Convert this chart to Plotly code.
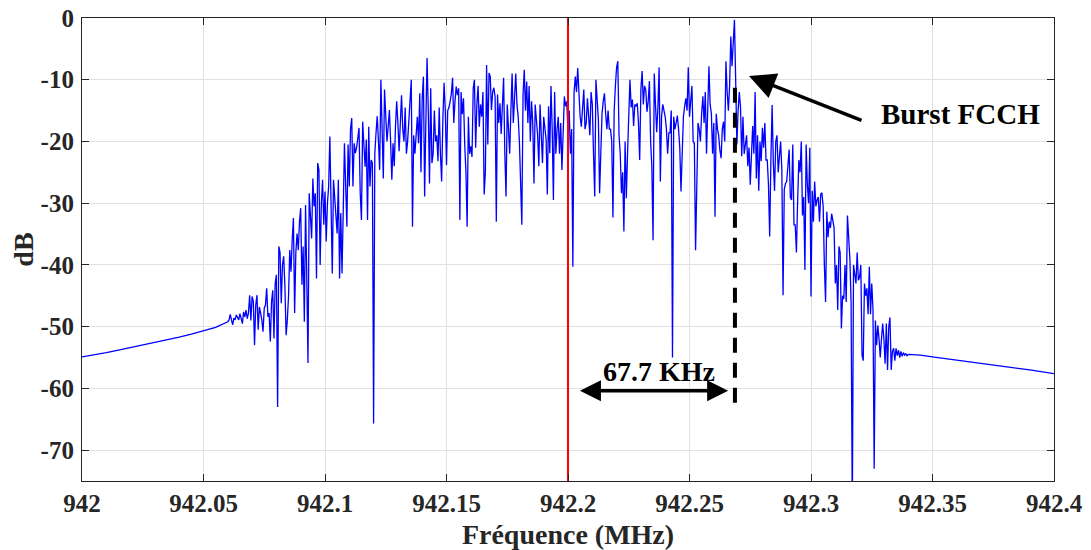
import numpy as np
import plotly.graph_objects as go

# ---------------- data ----------------
LEFT_FREQ = [942.000, 942.005, 942.010, 942.015, 942.020, 942.025, 942.030,
             942.035, 942.040, 942.045, 942.050, 942.055]
LEFT_DB = [-54.9, -54.6, -54.2, -53.8, -53.4, -53.0, -52.6,
           -52.1, -51.7, -51.2, -50.7, -50.1]

NOISE_START = 942.060
NOISE_STEP = 0.0005
NOISE_DB = [
    -49.2, -48.9, -48.0, -49.0, -49.7, -48.6, -48.9, -48.1, -48.5, -48.9,
    -47.9, -48.6, -49.5, -47.6, -48.4, -47.3, -48.7, -47.8, -44.9, -49.0,
    -45.1, -45.9, -53.0, -46.5, -44.9, -50.5, -46.8, -47.8, -48.9, -50.8,
    -47.0, -46.5, -43.8, -48.4, -47.8, -52.4, -46.0, -44.1, -51.9, -43.0,
    -41.6, -63.0, -37.0, -38.0, -46.2, -40.0, -38.6, -43.5, -51.4, -48.9,
    -45.0, -37.6, -41.1, -36.0, -32.4, -47.8, -38.0, -34.9, -37.6, -33.0,
    -30.8, -43.2, -37.0, -49.2, -30.3, -42.0, -55.9, -28.4, -32.0, -35.7,
    -26.0, -30.5, -28.4, -42.2, -23.5, -24.6, -40.0, -30.0, -26.2, -33.5,
    -28.1, -36.2, -30.0, -27.3, -19.2, -30.0, -41.4, -26.2, -28.9, -32.0,
    -34.9, -26.2, -42.2, -31.6, -41.4, -31.4, -20.3, -27.0, -33.8, -20.5,
    -27.3, -18.0, -16.2, -27.3, -20.3, -21.9, -21.0, -19.5, -17.8, -28.4,
    -32.7, -16.8, -22.0, -24.1, -19.7, -32.7, -17.6, -27.3, -23.0, -23.5,
    -65.7, -21.9, -18.6, -15.9, -20.0, -24.6, -10.0, -18.0, -26.0, -11.6,
    -16.0, -20.0, -17.6, -14.9, -20.0, -26.2, -20.3, -24.0, -17.6, -13.5,
    -17.0, -21.6, -17.0, -12.5, -18.0, -20.0, -14.5, -22.0, -20.0, -17.0,
    -14.0, -10.0, -33.8, -19.0, -22.0, -18.2, -16.0, -20.3, -12.2, -25.0,
    -13.0, -9.5, -28.9, -17.0, -6.5, -15.0, -26.8, -11.4, -23.5, -22.0,
    -15.0, -20.0, -19.0, -23.2, -14.5, -22.0, -26.5, -16.5, -10.5, -15.0,
    -23.8, -15.0, -14.5, -13.5, -12.2, -9.7, -17.0, -13.5, -11.1, -12.5,
    -11.4, -32.7, -12.0, -15.6, -13.0, -20.5, -25.0, -33.8, -16.0, -22.0,
    -20.8, -22.5, -11.4, -10.0, -21.0, -14.0, -11.0, -17.6, -14.0, -16.0,
    -12.0, -28.6, -24.9, -7.6, -20.5, -8.9, -9.5, -14.9, -12.0, -11.3,
    -12.8, -33.0, -12.4, -17.0, -13.8, -18.8, -15.0, -9.7, -21.9, -28.9,
    -14.0, -18.5, -22.0, -15.0, -9.0, -17.0, -11.5, -9.0, -14.0, -16.0,
    -20.0, -27.0, -33.5, -12.5, -8.4, -15.0, -10.3, -17.0, -11.0, -20.0,
    -13.5, -17.0, -26.8, -14.0, -16.5, -19.0, -24.0, -14.0, -18.9, -23.5,
    -16.0, -18.0, -19.7, -28.6, -14.3, -21.9, -11.0, -18.0, -29.5, -12.0,
    -22.0, -18.0, -16.0, -22.0, -17.0, -24.6, -16.0, -12.7, -14.3, -13.5,
    -18.6, -15.0, -22.0, -18.0, -40.3, -12.0, -9.5, -12.0, -8.1, -13.3,
    -16.0, -17.6, -13.3, -11.6, -18.0, -17.0, -13.0, -17.0, -19.0, -12.0,
    -14.0, -22.0, -28.9, -10.0, -14.3, -16.5, -28.4, -19.7, -15.5, -13.5,
    -12.2, -15.5, -18.0, -15.0, -18.0, -18.0, -20.0, -32.3, -15.0, -11.0,
    -8.0, -7.0, -19.0, -22.0, -28.4, -25.0, -34.6, -20.0, -29.2, -22.0,
    -16.0, -10.0, -14.5, -13.2, -17.5, -14.0, -14.3, -13.8, -17.0, -23.0,
    -11.5, -8.6, -14.0, -11.0, -11.6, -15.2, -13.5, -10.2, -20.0, -24.0,
    -36.0, -9.0, -14.0, -18.5, -14.5, -8.0, -26.5, -16.0, -14.0, -15.0,
    -16.0, -18.0, -22.0, -18.6, -18.6, -15.0, -55.0, -16.0, -18.0, -17.0,
    -15.8, -18.0, -21.0, -28.1, -20.0, -16.0, -14.3, -13.0, -15.0, -8.0,
    -16.0, -13.0, -11.0, -20.0, -20.3, -37.6, -26.0, -17.0, -18.0, -20.0,
    -15.4, -12.7, -17.0, -12.0, -22.0, -13.5, -7.8, -14.0, -15.5, -22.0,
    -17.0, -32.2, -15.5, -18.0, -19.0, -21.4, -22.7, -18.0, -16.8, -20.0,
    -7.0, -12.0, -15.0, -11.0, -3.0, -7.8, -3.0, -0.3, -10.0, -20.5,
    -15.0, -12.0, -14.6, -22.4, -16.0, -22.0, -20.5, -19.0, -24.0, -21.0,
    -27.0, -23.0, -17.5, -22.0, -12.0, -26.0, -19.0, -28.0, -20.0, -23.2,
    -17.8, -21.0, -17.0, -23.0, -23.0, -27.0, -35.4, -23.0, -14.1, -23.5,
    -28.0, -20.0, -19.0, -25.0, -22.0, -20.0, -24.6, -44.9, -27.8, -26.8,
    -26.5, -24.0, -21.3, -29.0, -29.5, -20.5, -33.5, -33.5, -38.0, -29.7,
    -23.0, -25.0, -20.0, -32.0, -29.0, -40.8, -20.5, -27.0, -30.0, -21.0,
    -45.1, -28.0, -33.0, -26.5, -30.5, -29.5, -29.0, -33.0, -28.5, -28.3,
    -30.5, -40.0, -46.0, -31.4, -35.5, -33.0, -34.0, -31.7, -33.0, -34.0,
    -43.0, -40.0, -47.3, -37.0, -38.0, -50.3, -45.0, -45.5, -40.0, -46.0,
    -32.0, -35.8, -39.0, -46.0, -80.0, -40.0, -41.5, -43.0, -38.0, -42.5,
    -42.0, -40.0, -54.6, -55.5, -43.0, -45.0, -43.8, -48.0, -40.3, -48.0,
    -43.0, -47.0, -73.0, -49.0, -53.0, -49.8, -52.0, -55.0, -52.0, -49.5,
    -52.0, -56.0, -49.5, -57.0, -50.0, -48.5, -57.0, -54.0, -53.5, -55.5,
    -53.5, -54.7, -53.8, -55.0, -54.0, -54.8, -54.2, -54.6, -54.4, -54.7,
    -54.5,
]

RIGHT_FREQ = [942.345, 942.350, 942.360, 942.370, 942.380, 942.390, 942.400]
RIGHT_DB = [-54.6, -54.9, -55.4, -55.9, -56.5, -57.0, -57.6]

CARRIER_FREQ = 942.2          # red line
FCCH_FREQ = 942.2687          # dashed black line
FCCH_DASH_DB = [-11.3, -63.2]
OFFSET_ARROW_FREQ = [942.2043, 942.2659]
OFFSET_ARROW_DB = -60.4
OFFSET_LABEL = "67.7 KHz"
BURST_LABEL = "Burst FCCH"

X_TICKS = [942.0, 942.05, 942.1, 942.15, 942.2, 942.25, 942.3, 942.35, 942.4]
X_TICK_LABELS = ["942", "942.05", "942.1", "942.15", "942.2", "942.25", "942.3", "942.35", "942.4"]
Y_TICKS = [0, -10, -20, -30, -40, -50, -60, -70]
Y_TICK_LABELS = ["0", "-10", "-20", "-30", "-40", "-50", "-60", "-70"]

# ---------------- build ----------------
noise_freq = NOISE_START + NOISE_STEP * np.arange(len(NOISE_DB))
freq = np.concatenate([LEFT_FREQ, noise_freq, RIGHT_FREQ])
db = np.concatenate([LEFT_DB, NOISE_DB, RIGHT_DB])

AX = "#262626"
FONT = "Liberation Serif"

fig = go.Figure()
fig.add_trace(go.Scatter(x=freq, y=db, mode="lines",
                         line=dict(color="#0000ff", width=1.3), hoverinfo="skip"))
fig.add_trace(go.Scatter(x=[FCCH_FREQ, FCCH_FREQ], y=FCCH_DASH_DB, mode="lines",
                         line=dict(color="black", width=4, dash="15px,10px")))
fig.add_trace(go.Scatter(x=[CARRIER_FREQ, CARRIER_FREQ], y=[-75, 0], mode="lines",
                         line=dict(color="#ff0000", width=2)))

fig.add_annotation(x=OFFSET_ARROW_FREQ[1], y=OFFSET_ARROW_DB,
                   ax=OFFSET_ARROW_FREQ[0], ay=OFFSET_ARROW_DB,
                   xref="x", yref="y", axref="x", ayref="y",
                   text="", showarrow=True, arrowhead=2, arrowside="end+start",
                   arrowsize=1.2, arrowwidth=3.5, arrowcolor="black",
                   standoff=0, startstandoff=0)
fig.add_annotation(x=942.2375, y=-57.3, xref="x", yref="y", text=OFFSET_LABEL,
                   showarrow=False,
                   font=dict(family=FONT, size=28, color="black", weight="bold"))
fig.add_annotation(x=942.2745, y=-9.4, ax=942.3214, ay=-16.7,
                   xref="x", yref="y", axref="x", ayref="y",
                   text="", showarrow=True, arrowhead=2, arrowsize=1.5,
                   arrowwidth=3.5, arrowcolor="black", standoff=0)
fig.add_annotation(x=942.3617, y=-15.6, xref="x", yref="y", text=BURST_LABEL,
                   showarrow=False,
                   font=dict(family=FONT, size=29, color="black", weight="bold"))

fig.update_xaxes(range=[942, 942.4], tickvals=X_TICKS, ticktext=X_TICK_LABELS,
                 automargin=False, ticklabeloverflow="allow",
                 ticks="inside", ticklen=7, tickcolor=AX, tickwidth=1,
                 showline=True, linecolor=AX, linewidth=1.2, mirror="ticks",
                 showgrid=True, gridcolor="#e0e0e0", gridwidth=1, zeroline=False,
                 tickfont=dict(family=FONT, size=25, color=AX, weight="bold"),
                 title=dict(text="Fréquence (MHz)", standoff=9,
                            font=dict(family=FONT, size=28, color=AX, weight="bold")))
fig.update_yaxes(range=[-75, 0], tickvals=Y_TICKS, ticktext=Y_TICK_LABELS,
                 automargin=False, ticklabelstandoff=2, ticklabeloverflow="allow",
                 ticks="inside", ticklen=7, tickcolor=AX, tickwidth=1,
                 showline=True, linecolor=AX, linewidth=1.2, mirror="ticks",
                 showgrid=True, gridcolor="#e0e0e0", gridwidth=1, zeroline=False,
                 tickfont=dict(family=FONT, size=25, color=AX, weight="bold"),
                 title=dict(text="dB", standoff=4,
                            font=dict(family=FONT, size=28, color=AX, weight="bold")))

# The page body adds an 8 px margin, so the figure is sized to fit the window
fig.update_layout(width=1083, height=542, showlegend=False,
                  margin=dict(l=74, r=37, t=10, b=69),
                  plot_bgcolor="white", paper_bgcolor="white")

fig.write_html("out.html")
